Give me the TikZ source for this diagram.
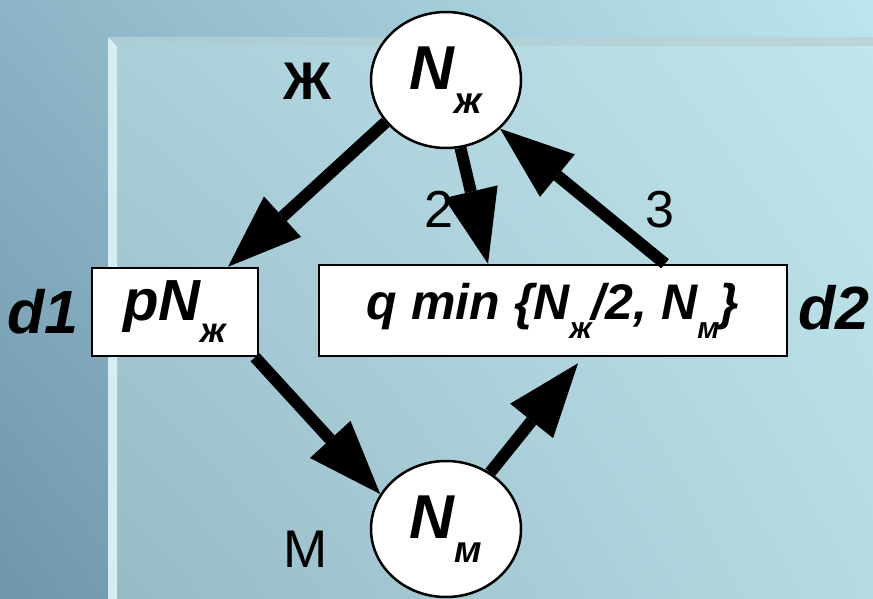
\documentclass[tikz,border=0pt]{standalone}
\usepackage{fontspec}
\setmainfont{Liberation Sans}
\usetikzlibrary{arrows.meta,shapes.geometric,shadings}
\definecolor{slideink}{HTML}{000000}
\definecolor{bevellight}{HTML}{D6EEF1}
\definecolor{outerUL}{RGB}{140,180,198}
\definecolor{outerUR}{RGB}{188,230,238}
\definecolor{outerLL}{RGB}{111,149,169}
\definecolor{outerLR}{RGB}{168,210,220}
\definecolor{panelUL}{RGB}{171,207,217}
\definecolor{panelUR}{RGB}{192,229,235}
\definecolor{panelLL}{RGB}{150,186,199}
\definecolor{panelLR}{RGB}{181,219,226}
\definecolor{rimL}{RGB}{170,205,214}
\definecolor{rimR}{RGB}{186,213,216}
\newcommand{\lowsub}[1]{\raisebox{-0.38em}{\scalebox{0.6}{#1}}}
\newcommand{\bigN}[1]{N\lowsub{#1}}

\begin{document}
\begin{tikzpicture}[
  x=1pt,
  y=-1pt,
  every node/.style={inner sep=0pt, text=slideink},
  bubble/.style={ellipse, draw=slideink, fill=white, line width=2.5pt,
    minimum width=150pt, minimum height=136pt,
    font=\fontsize{62}{66}\selectfont\bfseries\itshape},
  cell/.style={rectangle, draw=slideink, fill=white, line width=2.5pt},
  flow/.style={slideink, line width=12pt,
    -{Triangle[length=74pt, width=55pt, line width=0pt]}},
  sidetag/.style={font=\fontsize{61}{66}\selectfont\bfseries\itshape},
  numtag/.style={font=\fontsize{52}{56}\selectfont}
]
  % ================= slide background ===================================
  \useasboundingbox (0,0) rectangle (873,599);
  \clip (0,0) rectangle (873,599);
  \shade[upper left=outerUL, upper right=outerUR,
         lower left=outerLL, lower right=outerLR]
    (0,0) rectangle (873,599);
  \shade[upper left=panelUL, upper right=panelUR,
         lower left=panelLL, lower right=panelLR]
    (117,46) rectangle (873,599);
  \fill[bevellight] (108,37) -- (117,46) -- (117,599) -- (108,599) -- cycle;
  \shade[left color=rimL, right color=rimR]
    (108,37) -- (873,37) -- (873,46) -- (117,46) -- cycle;

  % ================= the four boxes =====================================
  \node[bubble] (nf) at (446,80) {\bigN{ж}};
  \node[bubble] (nm) at (446,529) {\bigN{м}};
  \node[cell, minimum width=166pt, minimum height=88pt,
        font=\fontsize{58}{62}\selectfont\bfseries\itshape]
    (pbox) at (175,312) {p\bigN{ж}};
  \node[cell, minimum width=468pt, minimum height=91pt,
        font=\fontsize{50}{55}\selectfont\bfseries\itshape]
    (qbox) at (553,310.5) {q min \{\bigN{ж}/2, \bigN{м}\}};

  % ================= labels =============================================
  \node[font=\fontsize{53}{58}\selectfont\bfseries] (flab) at (307,81) {Ж};
  \node[font=\fontsize{53}{58}\selectfont] (mlab) at (306,549) {М};
  \node[numtag] (two) at (439,209) {2};
  \node[numtag] (three) at (660,210) {3};
  \node[sidetag] (d1) at (43,312) {d1};
  \node[sidetag] (d2) at (834,308) {d2};

  % ================= arrows =============================================
  \draw[flow] (nf.215) -- ([xshift=53pt]pbox.north);
  \draw[flow] (nf.-78) -- ([xshift=-65pt]qbox.north);
  \draw[flow] ([xshift=112pt]qbox.north) -- (nf.-42);
  \draw[flow] ([xshift=80pt]pbox.south) -- (nm.152);
  \draw[flow] (nm.52) -- ([xshift=25pt, yshift=-6pt]qbox.south);
\end{tikzpicture}
\end{document}
